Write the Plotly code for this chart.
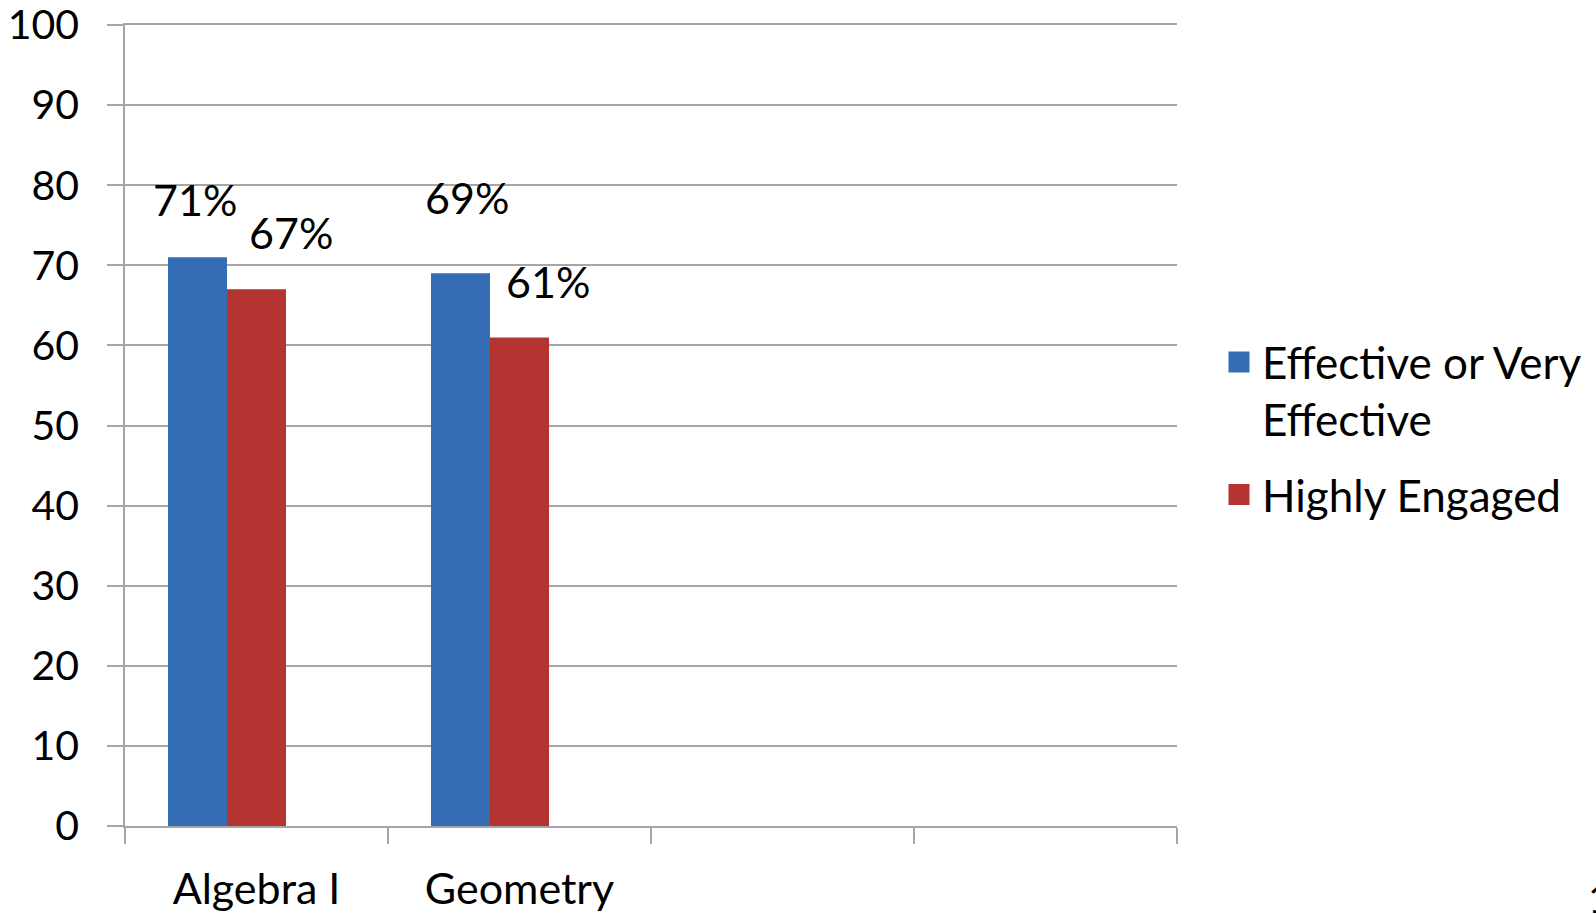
import plotly.graph_objects as go

# Data
categories = ["Algebra I", "Geometry"]
axis_slots = ["Algebra I", "Geometry", " ", "  "]
series_names = ["Effective or Very<br>Effective", "Highly Engaged"]
effective = [71, 69]
engaged = [67, 61]
y_ticks = [0, 10, 20, 30, 40, 50, 60, 70, 80, 90, 100]

FONT = "Lato"
GRID = "#a6a6a6"
BLUE = "#346db4"
RED = "#b53432"

L, R, T, B = 125, 419, 25, 88
PW, PH = 1596 - L - R, 914 - T - B

fig = go.Figure()
fig.add_trace(go.Bar(name=series_names[0], x=categories, y=effective,
                     marker=dict(color=BLUE, line=dict(width=0)), showlegend=False))
fig.add_trace(go.Bar(name=series_names[1], x=categories, y=engaged,
                     marker=dict(color=RED, line=dict(width=0)), showlegend=False))
# empty third series keeps the slot layout and the two spare categories
fig.add_trace(go.Bar(name="", x=axis_slots, y=[None] * 4, showlegend=False,
                     hoverinfo="skip"))

# legend entries with large square swatches
for i, (name, col) in enumerate(zip(series_names, [BLUE, RED])):
    fig.add_trace(go.Scatter(name=name, x=[None], y=[None], mode="markers",
                             legendgroup=f"g{i}",
                             marker=dict(symbol="square", size=16, color=col,
                                         line=dict(color=col, width=5))))

# value labels, placed relative to the bar they describe
labels = [
    (0, -1, effective[0], -3, 58),
    (0, 0, engaged[0], 34, 57),
    (1, -1, effective[1], 6, 76),
    (1, 0, engaged[1], 28, 56),
]
slot = 0.673 / 3
for cat, pos, val, dx, dy in labels:
    fig.add_annotation(x=cat + pos * slot, y=val, text=f"{val}%", showarrow=False,
                       xref="x", yref="y", xshift=dx, yshift=dy,
                       font=dict(family=FONT, size=43, color="black"))

# slide number at the page edge
fig.add_annotation(x=(1586 - L) / PW, y=(PH + T - 898) / PH, xref="paper", yref="paper",
                   text="1", showarrow=False, xanchor="left", yanchor="middle",
                   font=dict(family=FONT, size=40, color="black"))

fig.update_layout(
    width=1596, height=914,
    margin=dict(l=L, r=R, t=T, b=B, autoexpand=False),
    paper_bgcolor="white", plot_bgcolor="white",
    barmode="group", bargap=0.327, bargroupgap=0,
    font=dict(family=FONT, size=40, color="black"),
    showlegend=True,
    legend=dict(x=(1216 - L) / PW, y=(PH + T - 327) / PH, xanchor="left", yanchor="top",
                valign="top", itemsizing="trace", tracegroupgap=15,
                font=dict(family=FONT, size=44, color="black"),
                bgcolor="rgba(0,0,0,0)", itemwidth=36),
    xaxis=dict(type="category", categoryorder="array", categoryarray=axis_slots,
               range=[-0.5, 3.5], tickson="boundaries", ticks="outside",
               ticklen=16, tickwidth=1.5, tickcolor=GRID,
               showline=True, linecolor=GRID, linewidth=1.5, mirror=True,
               showgrid=False, automargin=False, ticklabelstandoff=25,
               ticklabeloverflow="allow",
               tickfont=dict(family=FONT, size=43)),
    yaxis=dict(range=[0, 100], tickvals=y_ticks, ticks="outside", ticklen=16,
               tickwidth=1.5, tickcolor=GRID, showline=True, linecolor=GRID,
               linewidth=1.5, showgrid=True, gridcolor=GRID, gridwidth=1.5,
               zeroline=False, automargin=False, ticklabelstandoff=20,
               ticklabeloverflow="allow",
               tickfont=dict(family=FONT, size=41)),
)

fig.write_html("out.html")
